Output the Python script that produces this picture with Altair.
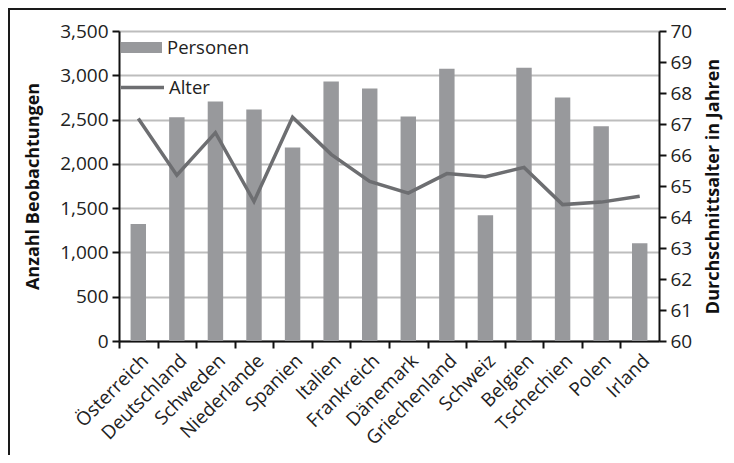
import altair as alt
import pandas as pd

laender = ["Österreich", "Deutschland", "Schweden", "Niederlande", "Spanien", "Italien",
           "Frankreich", "Dänemark", "Griechenland", "Schweiz", "Belgien", "Tschechien",
           "Polen", "Irland"]
personen = [1320, 2525, 2705, 2615, 2185, 2930, 2850, 2535, 3075, 1420, 3085, 2750, 2425, 1105]
alter = [67.18, 65.35, 66.72, 64.5, 67.22, 66.02, 65.15, 64.77, 65.4, 65.3, 65.6, 64.4, 64.48, 64.67]
links_ticks = [0, 500, 1000, 1500, 2000, 2500, 3000, 3500]
rechts_ticks = [60, 61, 62, 63, 64, 65, 66, 67, 68, 69, 70]

df = pd.DataFrame({"Land": laender, "Personen": personen, "Alter": alter})

FONT = "Open Sans"
LFS = 19
TFS = 18
W, H = 540, 310
step = W / len(laender)

xenc = alt.X(
    "Land:N",
    sort=laender,
    scale=alt.Scale(paddingInner=0.6, paddingOuter=0.3),
    axis=alt.Axis(
        title=None, labelAngle=-45, labelFontSize=LFS, labelFont=FONT, labelColor="#222",
        tickOffset=-step / 2, labelOffset=step / 2, tickSize=7, tickWidth=2, tickColor="#111",
        domainColor="#111", domainWidth=2, labelPadding=3,
    ),
)

bars = alt.Chart(df).transform_calculate(s1="'Personen'").mark_bar(color="#98999c").encode(
    x=xenc,
    y=alt.Y(
        "Personen:Q",
        scale=alt.Scale(domain=[0, 3500], nice=False),
        axis=alt.Axis(
            title="Anzahl Beobachtungen", titleFont=FONT, titleFontSize=TFS, titleFontWeight="bold",
            titleColor="#111", titlePadding=17,
            values=links_ticks, format=",.0f", labelFont=FONT, labelFontSize=LFS, labelColor="#222",
            grid=True, gridColor="#bdbdbd", gridWidth=2, tickSize=7, tickWidth=2, tickColor="#111",
            domainColor="#111", domainWidth=2, labelPadding=4,
        ),
    ),
    color=alt.Color(
        "s1:N",
        scale=alt.Scale(domain=["Personen"], range=["#98999c"]),
        legend=alt.Legend(
            title=None, orient="none", legendX=2, legendY=-4, padding=0,
            symbolType="M-1,-0.27H1V0.27H-1Z", symbolSize=1681, symbolStrokeWidth=0,
            symbolOpacity=1, labelFont=FONT, labelFontSize=18.5, labelColor="#222", labelOffset=5,
        ),
    ),
)

line = alt.Chart(df).transform_calculate(s2="'Alter'").mark_line(strokeWidth=3.5).encode(
    x=alt.X("Land:N", sort=laender),
    y=alt.Y(
        "Alter:Q",
        scale=alt.Scale(domain=[60, 70], nice=False, zero=False),
        axis=alt.Axis(
            orient="right", title="Durchschnittsalter in Jahren", titleAngle=270,
            titleFont=FONT, titleFontSize=TFS, titleFontWeight="bold", titleColor="#111",
            titlePadding=31, values=rechts_ticks, labelFont=FONT, labelFontSize=LFS,
            labelColor="#222", grid=False, tickSize=7, tickWidth=2, tickColor="#111",
            domainColor="#111", domainWidth=2, labelPadding=4,
        ),
    ),
    stroke=alt.Stroke(
        "s2:N",
        scale=alt.Scale(domain=["Alter"], range=["#6d6e71"]),
        legend=alt.Legend(
            title=None, orient="none", legendX=0, legendY=33, padding=0,
            symbolType="stroke", symbolSize=1849, symbolStrokeWidth=3.5,
            labelFont=FONT, labelFontSize=18.5, labelColor="#222", labelOffset=3,
        ),
    ),
)

border = alt.Chart(alt.Data(values=[{"k": 1}])).mark_rect(
    fillOpacity=0, fill="white", stroke="#1a1a1a", strokeWidth=2, clip=False
).encode(
    x=alt.value(-110), x2=alt.value(640), y=alt.value(-22), y2=alt.value(470)
)

chart = alt.layer(bars, line, border).resolve_scale(
    y="independent", color="independent", stroke="independent"
).properties(
    width=W, height=H,
    autosize=alt.AutoSizeParams(type="none"),
    padding={"left": 111, "top": 23, "right": 67, "bottom": 114},
).configure_view(stroke=None).configure(background="white")

chart.save("out.html", embed_options={"renderer": "svg", "actions": False})
